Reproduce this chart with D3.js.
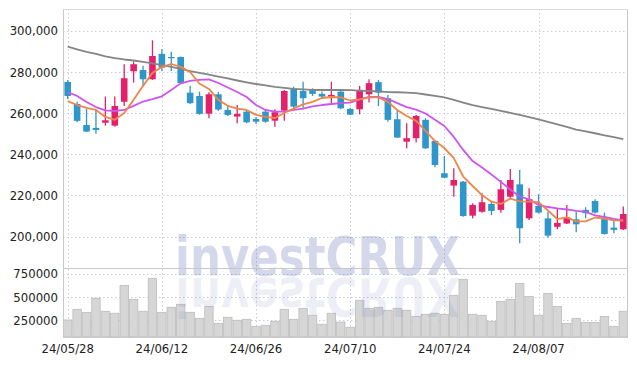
<!DOCTYPE html>
<meta charset="utf-8">
<script src="https://d3js.org/d3.v7.min.js"></script>
<style>
  body { margin: 0; background: #fff; }
  text { font-family: "DejaVu Sans Condensed", "DejaVu Sans", sans-serif; }
</style>
<div id="chart"></div>
<script>
// trading days
const dates = ["2024-05-28","2024-05-29","2024-05-30","2024-05-31","2024-06-03","2024-06-04","2024-06-05","2024-06-07","2024-06-10","2024-06-11",
  "2024-06-12","2024-06-13","2024-06-14","2024-06-17","2024-06-18","2024-06-19","2024-06-20","2024-06-21","2024-06-24","2024-06-25",
  "2024-06-26","2024-06-27","2024-06-28","2024-07-01","2024-07-02","2024-07-03","2024-07-04","2024-07-05","2024-07-08","2024-07-09",
  "2024-07-10","2024-07-11","2024-07-12","2024-07-15","2024-07-16","2024-07-17","2024-07-18","2024-07-19","2024-07-22","2024-07-23",
  "2024-07-24","2024-07-25","2024-07-26","2024-07-29","2024-07-30","2024-07-31","2024-08-01","2024-08-02","2024-08-05","2024-08-06",
  "2024-08-07","2024-08-08","2024-08-09","2024-08-12","2024-08-13","2024-08-14","2024-08-16","2024-08-19","2024-08-20","2024-08-21"];

const open = [275100,264400,254200,252800,255300,253900,265500,280300,280900,276400,
  288700,287200,287200,269900,268300,259700,269100,261500,258300,260700,
  257100,260700,256300,261200,272000,270700,271200,269300,268000,270400,
  262000,261800,269100,275000,267200,257000,246100,247800,256700,246500,
  230800,224800,226700,210200,212100,215900,213000,219400,225400,208900,
  214900,208900,204800,206400,208400,213000,217300,209400,204400,203600];
const high = [276000,265500,262000,262000,268000,268000,283700,285000,282900,295300,
  291000,289800,287500,273200,270400,270100,270200,263900,263900,261500,
  258100,261900,261900,271200,272800,275200,272000,270400,275200,270900,
  262500,273200,276400,276100,268800,261200,255100,259100,257500,247000,
  239200,233200,227000,216200,221100,217000,227500,232800,232400,223500,
  220600,212100,213800,215400,212100,214300,218200,211700,208100,214600];
const low = [266800,255500,250800,249900,253900,253400,263400,274800,273200,276100,
  280300,280400,274400,264400,259200,257500,261000,258600,255100,255100,
  254700,255300,253400,256300,262300,262300,268300,267300,264800,261800,
  259000,259400,265100,263400,255800,247900,242900,245700,242600,233700,
  228400,219400,209700,208900,211600,210500,211600,218200,196800,208100,
  211300,199500,203600,206100,202100,209000,211300,201000,201700,203300];
const close = [268300,256200,251000,251800,256500,263400,276900,283700,276400,287700,
  282000,287000,274500,264800,259600,269100,261700,259100,259600,255500,
  255800,255800,260400,270700,263100,267200,269300,268000,268800,262300,
  259200,271200,274500,269900,256700,248100,247800,258600,242900,234800,
  228600,227500,210000,215400,216700,212500,223000,227500,204100,218200,
  211700,200500,206700,209400,206000,211400,211700,201300,203300,211000];
const volume = [255000,369000,337000,487000,348000,327000,626000,476000,348000,701000,
  337000,391000,423000,337000,273000,401000,219000,284000,252000,262000,
  187000,198000,241000,369000,262000,380000,305000,209000,327000,233000,
  177000,466000,380000,391000,359000,380000,359000,294000,316000,327000,
  316000,519000,690000,316000,305000,241000,455000,476000,647000,508000,
  305000,540000,401000,219000,273000,230000,230000,294000,187000,348000];

// moving averages (5, 20, 60 days)
const ma5 = [265800,263900,262500,261500,258100,256700,260000,266400,273200,279500,
  282400,283800,282400,279900,274200,271700,266400,263500,262200,261500,
  259100,258100,257600,260000,262200,264200,265400,267300,267800,267600,
  266100,266600,267600,267600,265400,261500,258600,256200,251300,246400,
  243000,238100,229200,224600,220200,217000,215900,218500,217100,217000,
  216800,212700,208500,209400,207400,207400,209300,208800,207900,207800];
const ma20 = [270100,268300,265400,262900,261300,261000,261500,263500,265600,266800,
  268100,271200,274400,275600,276100,276300,274600,272400,270200,267800,
  263900,261500,260700,260700,261500,262200,263200,263900,264400,264800,
  265100,266600,267800,267800,266800,264800,262900,261700,259800,256700,
  253700,248400,242100,236700,233600,230200,226600,222900,219500,218100,
  215400,214400,213700,213200,212500,212000,210300,209600,208600,207900];
const ma60 = [292200,290900,289700,288700,287500,286700,286000,285500,284800,284100,
  283300,282400,281400,280400,279500,278700,277700,276800,275800,274900,
  274100,273400,272700,272200,271700,271500,271200,271200,271200,271200,
  271100,270900,270700,270500,270200,270100,269900,269700,269000,268300,
  267600,266400,265100,263900,262900,262000,261000,260100,259100,258000,
  256900,255700,254500,253300,252000,251100,250200,249200,248300,247300];

const priceTicks = [200000, 220000, 240000, 260000, 280000, 300000];
const volumeTicks = [250000, 500000, 750000];
const labelDates = ["2024-05-28","2024-06-12","2024-06-26","2024-07-10","2024-07-24","2024-08-07"];

const W = 637, H = 366;
const left = 63, right = 628, priceTop = 9, priceBottom = 268, volBottom = 337;

const svg = d3.select("#chart").append("svg")
  .attr("width", W).attr("height", H);

const x = d3.scaleBand().domain(dates).range([left, right]).padding(0);
const yP = d3.scaleLinear().domain([184800, 310500]).range([priceBottom, priceTop]);
const yV = d3.scaleLinear().domain([72800, 811600]).range([volBottom, priceBottom]);
const cx = d => x(d) + x.bandwidth() / 2;
const fmtDate = d => d.slice(2).replace(/-/g, "/");

// grid
const grid = svg.append("g").attr("stroke", "#c9cbdc").attr("stroke-dasharray", "1.5,2.5").attr("stroke-width", 1);
grid.selectAll(".hp").data(priceTicks).join("line")
  .attr("x1", left).attr("x2", right)
  .attr("y1", d => Math.round(yP(d)) + 0.5).attr("y2", d => Math.round(yP(d)) + 0.5);
grid.selectAll(".hv").data(volumeTicks).join("line")
  .attr("x1", left).attr("x2", right)
  .attr("y1", d => Math.round(yV(d)) + 0.5).attr("y2", d => Math.round(yV(d)) + 0.5);
grid.selectAll(".vx").data(labelDates).join("line")
  .attr("x1", d => Math.round(cx(d)) + 0.5).attr("x2", d => Math.round(cx(d)) + 0.5)
  .attr("y1", priceTop).attr("y2", volBottom);

// volume bars
svg.append("g").selectAll("rect").data(dates).join("rect")
  .attr("x", d => x(d) + 0.5)
  .attr("y", (d, i) => yV(volume[i]))
  .attr("width", x.bandwidth() - 1)
  .attr("height", (d, i) => volBottom - yV(volume[i]))
  .attr("fill", "#d6d6d6")
  .attr("stroke", "#bcbcbc")
  .attr("stroke-width", 0.8);

// watermark with its reflection
const wm = svg.append("g").attr("font-size", 54).attr("font-weight", "bold").attr("fill", "#4a5aa8");
wm.append("text")
  .attr("x", 175).attr("y", 275)
  .attr("textLength", 285).attr("lengthAdjust", "spacingAndGlyphs")
  .attr("fill-opacity", 0.24)
  .text("investCRUX");
wm.append("text")
  .attr("transform", "translate(0,553) scale(1,-1)")
  .attr("x", 175).attr("y", 275)
  .attr("textLength", 285).attr("lengthAdjust", "spacingAndGlyphs")
  .attr("fill-opacity", 0.09)
  .text("investCRUX");

// frame
svg.append("line").attr("x1", left + 0.5).attr("x2", left + 0.5).attr("y1", priceTop).attr("y2", volBottom).attr("stroke", "#c8c8c8");
svg.append("line").attr("x1", right - 0.5).attr("x2", right - 0.5).attr("y1", priceTop).attr("y2", volBottom).attr("stroke", "#c8c8c8");
svg.append("line").attr("x1", left).attr("x2", right).attr("y1", priceTop + 0.5).attr("y2", priceTop + 0.5).attr("stroke", "#dcdcdc");
svg.append("line").attr("x1", left).attr("x2", right).attr("y1", priceBottom + 0.5).attr("y2", priceBottom + 0.5).attr("stroke", "#c8c8c8");
svg.append("line").attr("x1", left).attr("x2", right).attr("y1", volBottom + 0.5).attr("y2", volBottom + 0.5).attr("stroke", "#c8c8c8");

// candles
const up = "#e3206b", down = "#2f96c9";
const candles = svg.append("g").selectAll("g").data(dates).join("g");
candles.append("line")
  .attr("x1", d => cx(d)).attr("x2", d => cx(d))
  .attr("y1", (d, i) => yP(high[i])).attr("y2", (d, i) => yP(low[i]))
  .attr("stroke", (d, i) => close[i] >= open[i] ? up : down)
  .attr("stroke-width", 1.3);
candles.append("rect")
  .attr("x", d => cx(d) - 3.3)
  .attr("width", 6.6)
  .attr("y", (d, i) => yP(Math.max(open[i], close[i])))
  .attr("height", (d, i) => Math.max(1.2, Math.abs(yP(open[i]) - yP(close[i]))))
  .attr("fill", (d, i) => close[i] >= open[i] ? up : down);

// moving average lines
const line = arr => d3.line().x(d => cx(d)).y((d, i) => yP(arr[i]))(dates);
[[ma60, "#858585"], [ma20, "#cc55ee"], [ma5, "#ef8548"]].forEach(([arr, c]) => {
  svg.append("path").attr("d", line(arr))
    .attr("fill", "none").attr("stroke", c).attr("stroke-width", 1.8)
    .attr("stroke-linejoin", "round");
});

// axes
const pAxis = svg.append("g").attr("transform", `translate(${left},0)`)
  .call(d3.axisLeft(yP).tickValues(priceTicks).tickFormat(d3.format(",")).tickSize(0).tickPadding(5));
const vAxis = svg.append("g").attr("transform", `translate(${left},0)`)
  .call(d3.axisLeft(yV).tickValues(volumeTicks).tickFormat(d3.format("d")).tickSize(0).tickPadding(5));
const xAxis = svg.append("g").attr("transform", `translate(0,${volBottom})`)
  .call(d3.axisBottom(x).tickValues(labelDates).tickFormat(fmtDate).tickSize(0).tickPadding(7));
[pAxis, vAxis, xAxis].forEach(a => {
  a.select(".domain").remove();
  a.selectAll("text").attr("font-size", 13).attr("fill", "#222")
    .attr("font-family", "'DejaVu Sans Condensed', 'DejaVu Sans', sans-serif");
});
</script>
